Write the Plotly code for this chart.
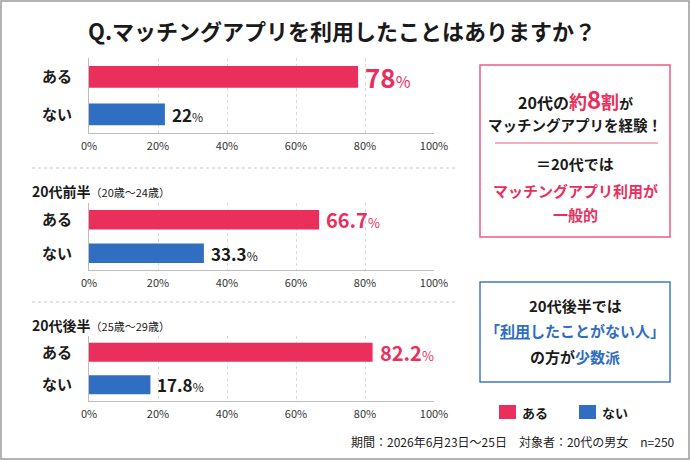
import plotly.graph_objects as go

W, H = 690, 460
def px(x): return x / W
def py(y): return 1 - y / H

# ---- data ----
categories = ["ある", "ない"]
overall = [78, 22]
early_20s = [66.7, 33.3]
late_20s = [82.2, 17.8]
tick_vals = [0, 20, 40, 60, 80, 100]
tick_labels = ["0%", "20%", "40%", "60%", "80%", "100%"]

PINK = "#EA2F5C"
BLUE = "#2F6EC1"
FONT = "Noto Sans CJK JP"
DARK = "#1a1a1a"

fig = go.Figure()

panels = [
    (overall, 58, 133, "x", "y", "xaxis", "yaxis"),
    (early_20s, 203, 270, "x2", "y2", "xaxis2", "yaxis2"),
    (late_20s, 336, 401, "x3", "y3", "xaxis3", "yaxis3"),
]

annotations = []
shapes = []

label_styles = [
    [(26, 16, PINK), (17, 12, DARK)],
    [(20, 13, PINK), (17, 12, DARK)],
    [(20, 13, PINK), (17, 12, DARK)],
]

for i, (vals, top, bot, xr, yr, xk, yk) in enumerate(panels):
    fig.add_trace(go.Bar(
        x=vals, y=categories, orientation="h",
        marker=dict(color=[PINK, BLUE], line=dict(width=0)),
        width=0.58, xaxis=xr, yaxis=yr, showlegend=False, hoverinfo="skip",
    ))
    fig.update_layout(**{
        xk: dict(domain=[px(89), px(434)], range=[0, 100], tickvals=tick_vals,
                 ticktext=tick_labels, showgrid=True, gridcolor="#d9d9d9",
                 griddash="dot", gridwidth=1, zeroline=False, showline=True,
                 linecolor="#bdbdbd", linewidth=1, anchor=yr,
                 tickfont=dict(family=FONT, size=11, color="#333"), ticks="",
                 ticklabelstandoff=3, fixedrange=True, automargin=False),
        yk: dict(domain=[py(bot), py(top)], categoryorder="array",
                 categoryarray=["ない", "ある"], range=[-0.5, 1.5], anchor=xr,
                 showgrid=False, zeroline=False, showline=True,
                 linecolor="#bdbdbd", linewidth=1, ticks="",
                 tickvals=categories, ticktext=["<b>" + c + "</b>" for c in categories],
                 tickfont=dict(family=FONT, size=15, color=DARK),
                 ticklabelstandoff=13, fixedrange=True, automargin=False),
    })
    for j, (c, v) in enumerate(zip(categories, vals)):
        big, small, col = label_styles[i][j]
        num = ("%g" % v)
        annotations.append(dict(
            x=v, y=c, xref=xr, yref=yr, xanchor="left", yanchor="middle",
            xshift=5, showarrow=False,
            text="<b>%s</b><span style='font-size:%dpx'>%%</span>" % (num, small),
            font=dict(family=FONT, size=big, color=col),
        ))

# title
annotations.append(dict(x=px(342), y=py(30), xref="paper", yref="paper",
                        text="<b>Q.マッチングアプリを利用したことはありますか？</b>",
                        showarrow=False, font=dict(family=FONT, size=22, color=DARK),
                        xanchor="center", yanchor="middle"))

# section headers
for label, sub, y in [("20代前半", "（20歳～24歳）", 191), ("20代後半", "（25歳～29歳）", 325)]:
    annotations.append(dict(x=px(30), y=py(y), xref="paper", yref="paper",
                            text="<b>%s</b><span style='font-size:11px'>%s</span>" % (label, sub),
                            showarrow=False, font=dict(family=FONT, size=14, color=DARK),
                            xanchor="left", yanchor="middle"))

# separators
for y in [168, 302]:
    shapes.append(dict(type="line", xref="paper", yref="paper",
                       x0=px(32), x1=px(455), y0=py(y), y1=py(y),
                       line=dict(color="#c8c8c8", width=1, dash="dot")))

# outer border
shapes.append(dict(type="rect", xref="paper", yref="paper", x0=px(1), x1=px(689),
                   y0=py(459), y1=py(1), line=dict(color="#9a9a9a", width=1.5)))

# right box 1 (pink)
shapes.append(dict(type="rect", xref="paper", yref="paper", x0=px(480), x1=px(670),
                   y0=py(237), y1=py(65), line=dict(color="#EE5C80", width=1.5)))
shapes.append(dict(type="line", xref="paper", yref="paper", x0=px(495), x1=px(658),
                   y0=py(143), y1=py(143), line=dict(color="#EE5C80", width=1)))
box1 = [
    (98, "<b>20代の<span style='color:%s;font-size:18px'>約<span style='font-size:24px'>8</span>割</span><span style='font-size:14px'>が</span></b>" % PINK, 16),
    (124, "<b>マッチングアプリを経験！</b>", 14.5),
    (164, "<b>＝20代では</b>", 15),
    (190, "<b><span style='color:%s'>マッチングアプリ利用が</span></b>" % PINK, 15),
    (214, "<b><span style='color:%s'>一般的</span></b>" % PINK, 15),
]
for y, t, s in box1:
    annotations.append(dict(x=px(575), y=py(y), xref="paper", yref="paper", text=t,
                            showarrow=False, font=dict(family=FONT, size=s, color=DARK),
                            xanchor="center", yanchor="middle"))

# right box 2 (blue)
shapes.append(dict(type="rect", xref="paper", yref="paper", x0=px(480), x1=px(670),
                   y0=py(382), y1=py(282), line=dict(color="#3C7BCB", width=1.5)))
box2 = [
    (305, "<b>20代後半では</b>"),
    (330, "<b><span style='color:%s'>「<u>利用</u>したことがない人」</span></b>" % BLUE),
    (356, "<b>の方が<span style='color:%s'>少数派</span></b>" % BLUE),
]
for y, t in box2:
    annotations.append(dict(x=px(575), y=py(y), xref="paper", yref="paper", text=t,
                            showarrow=False, font=dict(family=FONT, size=15, color=DARK),
                            xanchor="center", yanchor="middle"))

# legend
for x0, col, lab in [(499, PINK, "ある"), (579, BLUE, "ない")]:
    shapes.append(dict(type="rect", xref="paper", yref="paper", x0=px(x0), x1=px(x0 + 17),
                       y0=py(419), y1=py(405), fillcolor=col, line=dict(width=0)))
    annotations.append(dict(x=px(x0 + 21), y=py(412), xref="paper", yref="paper",
                            text="<b>%s</b>" % lab, showarrow=False,
                            font=dict(family=FONT, size=13, color=DARK),
                            xanchor="left", yanchor="middle"))

# footnote
annotations.append(dict(x=px(677), y=py(441), xref="paper", yref="paper",
                        text="期間：2026年6月23日～25日　対象者：20代の男女　n=250",
                        showarrow=False, font=dict(family=FONT, size=12, color="#222"),
                        xanchor="right", yanchor="middle"))

fig.update_layout(
    width=W, height=H, autosize=False, margin=dict(l=0, r=0, t=0, b=0, pad=0),
    paper_bgcolor="white", plot_bgcolor="white",
    annotations=annotations, shapes=shapes, showlegend=False,
)

fig.write_html("out.html", config={"displayModeBar": False, "responsive": False})
